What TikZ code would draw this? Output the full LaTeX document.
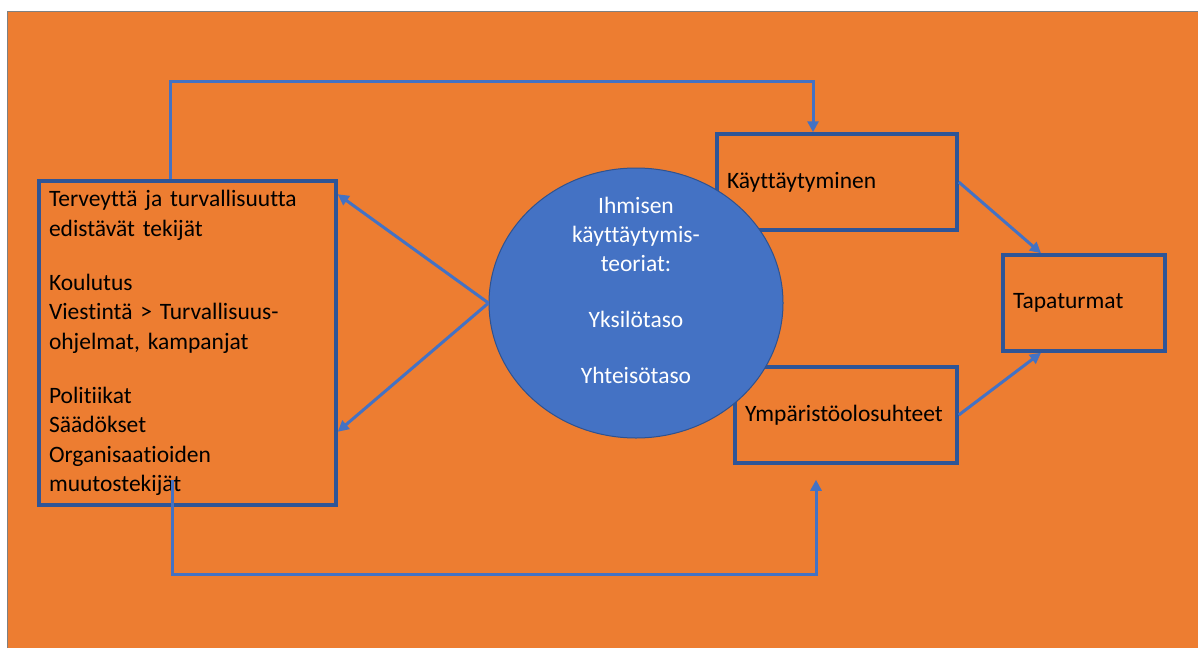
\documentclass[tikz,border=0pt]{standalone}
\usepackage{fontspec}
\setmainfont{Carlito}[Ligatures=NoCommon]
\usetikzlibrary{arrows.meta, shapes.geometric}
\frenchspacing

\definecolor{slide}{HTML}{ED7D31}
\definecolor{link}{HTML}{4472C4}
\definecolor{frame}{HTML}{2F5597}
\definecolor{ring}{HTML}{2F528F}

\tikzset{
  factor/.style={draw=frame, line width=3.5pt, align=left, inner xsep=10pt,
    font=\fontsize{23.5}{29.3}\selectfont},
  theory/.style={ellipse, draw=ring, line width=1pt, fill=link, inner sep=0pt,
    minimum width=294pt, minimum height=270pt},
  theorytext/.style={align=center, text=white, font=\fontsize{23.5}{29}\selectfont},
  flow/.style={draw=link, line width=3pt, ->}
}

\begin{document}
\begin{tikzpicture}[x=1pt, y=-1pt, >={Triangle[length=11pt,width=11pt]}]
		  \useasboundingbox (0,0) rectangle (1198,648);
		  \fill[white] (0,0) rectangle (1198,648);
		  \fill[slide] (7,11) rectangle (1198,648);
		  \draw[gray, line width=0.8pt] (7,648) -- (7,11) -- (1198,11);
		  \node[factor, text width=277pt, minimum height=324pt] (factors) at (187.5,343) {Terveyttä ja turvallisuutta\\ edistävät tekijät\\[25pt] Koulutus\\ Viestintä > Turvallisuus-\\ ohjelmat, kampanjat\\[25pt] Politiikat\\ Säädökset\\ Organisaatioiden\\ muutostekijät};
		  \node[factor, text width=220pt, minimum height=96pt] (behav) at (837,182) {Käyttäytyminen};
		  \node[factor, text width=142pt, minimum height=96pt] (accid) at (1084,303) {Tapaturmat};
		  \node[factor, text width=202pt, minimum height=96pt] (env) at (846,415) {Ympäristöolosuhteet};
		  \node[theory] (theory) at (636,303) {};
		  \node[theorytext] (theorytext) at ([yshift=13pt]theory.center) {Ihmisen\\ käyttäytymis-\\ teoriat:\\[27pt] Yksilötaso\\[27pt] Yhteisötaso};
		  \draw[flow] ([xshift=-17pt]factors.north) -- ++(0,-98) -| ([xshift=-24pt]behav.north);
		  \draw[flow] ([xshift=-15pt,yshift=27pt]factors.south) -- ++(0,95) -| ([xshift=-30pt,yshift=-15pt]env.south);
		  \draw[flow] (theory.west) -- ([yshift=-15pt]factors.north east);
		  \draw[flow] (theory.west) -- ([yshift=75pt]factors.south east);
		  \draw[flow] (behav.east) -- ([xshift=-43pt]accid.north);
		  \draw[flow] (env.east) -- ([xshift=-43pt]accid.south);
		\end{tikzpicture}
\end{document}
